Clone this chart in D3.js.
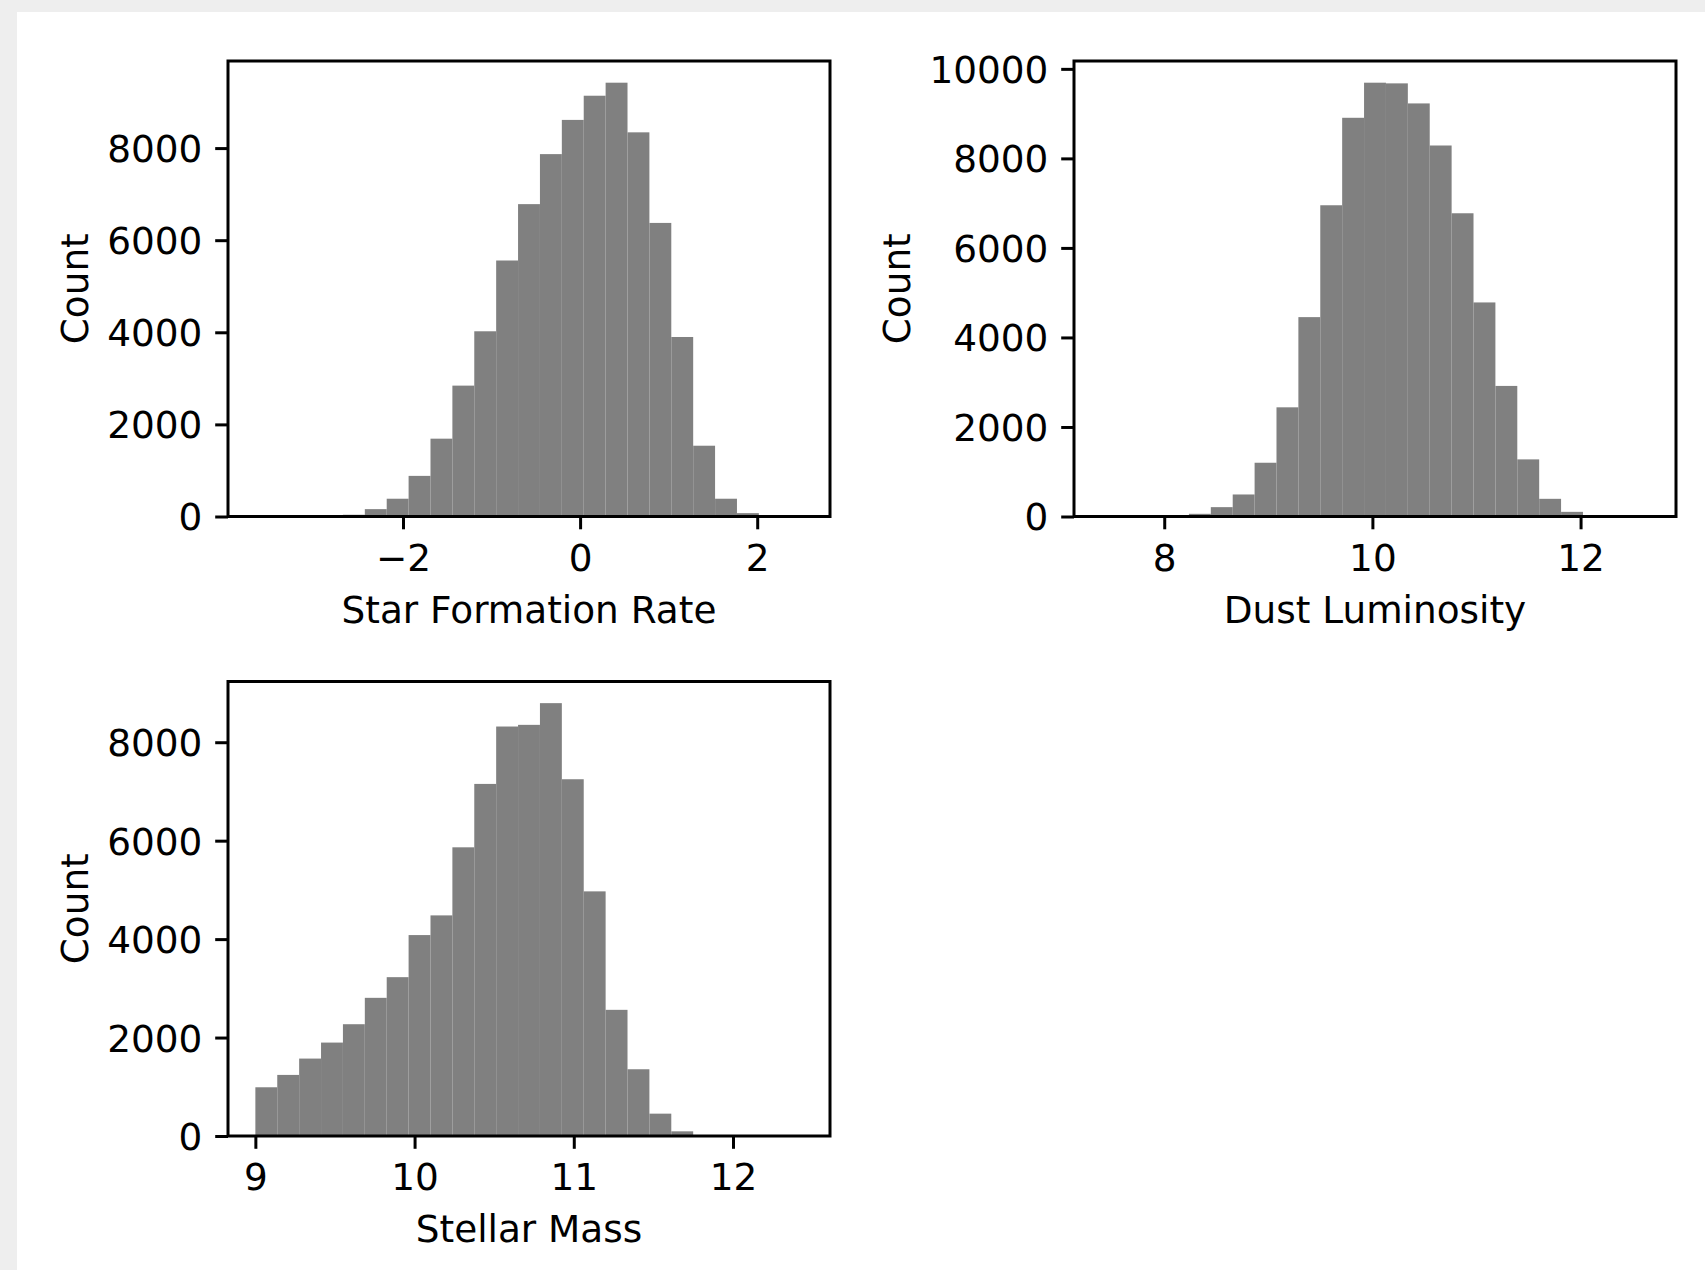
<!DOCTYPE html>
<html>
<head>
<meta charset="utf-8">
<script src="https://cdn.jsdelivr.net/npm/d3@7"></script>
<style>
  html, body { margin: 0; padding: 0; background: #eeeeee; }
  svg { display: block; }
  text { font-family: "DejaVu Sans", sans-serif; }
</style>
</head>
<body>
<svg id="chart" width="1705" height="1270"></svg>
<script>
// ---------- DATA (25 equal-width bins per histogram) ----------
const sfrRange = [-3.667, 2.513];
const sfrCounts = [1, 2, 3, 8, 38, 160, 386, 882, 1690, 2842, 4022, 5559, 6783,
                   7869, 8612, 9137, 9420, 8342, 6375, 3898, 1537, 386, 73, 5, 1];
const sfrTicks = [-2, 0, 2];
const sfrYTicks = [0, 2000, 4000, 6000, 8000];

const dustRange = [7.396, 12.654];
const dustCounts = [1, 2, 5, 15, 60, 209, 492, 1201, 2439, 4454, 6953, 8907, 9691,
                    9676, 9228, 8288, 6774, 4782, 2917, 1276, 395, 104, 22, 5, 1];
const dustTicks = [8, 10, 12];
const dustYTicks = [0, 2000, 4000, 6000, 8000, 10000];

const massRange = [9.0, 12.4375];
const massCounts = [990, 1241, 1573, 1898, 2271, 2807, 3227, 4082, 4482, 5865, 7153,
                    8319, 8353, 8794, 7248, 4970, 2563, 1356, 454, 95, 10, 3, 1, 0, 1];
const massTicks = [9, 10, 11, 12];
const massYTicks = [0, 2000, 4000, 6000, 8000];

const panels = [
  { label: "Star Formation Rate", range: sfrRange, counts: sfrCounts, xt: sfrTicks, yt: sfrYTicks,
    x0: 228, x1: 830, y0: 61, y1: 516.5 },
  { label: "Dust Luminosity", range: dustRange, counts: dustCounts, xt: dustTicks, yt: dustYTicks,
    x0: 1074, x1: 1676, y0: 61, y1: 516.5 },
  { label: "Stellar Mass", range: massRange, counts: massCounts, xt: massTicks, yt: massYTicks,
    x0: 228, x1: 830, y0: 681.5, y1: 1136 }
];

// ---------- STYLE ----------
const FS = 37.4;           // font size (10pt)
const TICK = 12.8;         // tick length
const PAD = 12.8;          // tick label pad
const LW = 3;              // spine / tick width
const BAR = "#808080";
const DIGIT = 0.636 * FS;  // DejaVu digit advance

const svg = d3.select("#chart");
svg.append("rect").attr("x", 17).attr("y", 12).attr("width", 1705 - 17).attr("height", 1270 - 12)
   .attr("fill", "#ffffff");

const fmt = d3.format("d");

panels.forEach(p => {
  const n = p.counts.length;
  const [a, b] = p.range;
  const bw = (b - a) / n;
  const bins = p.counts.map((c, i) => ({ x0: a + i * bw, x1: a + (i + 1) * bw, c }));
  const m = 0.05 * (b - a);
  const x = d3.scaleLinear().domain([a - m, b + m]).range([p.x0, p.x1]);
  const y = d3.scaleLinear().domain([0, d3.max(p.counts) * 1.05]).range([p.y1, p.y0]);

  const g = svg.append("g");

  g.append("g").selectAll("rect").data(bins.filter(d => d.c > 0)).join("rect")
    .attr("x", d => x(d.x0))
    .attr("width", d => x(d.x1) - x(d.x0))
    .attr("y", d => y(d.c))
    .attr("height", d => y(0) - y(d.c))
    .attr("fill", BAR);

  // axes
  const xa = g.append("g").attr("transform", `translate(0,${p.y1})`)
    .call(d3.axisBottom(x).tickValues(p.xt).tickFormat(fmt).tickSize(TICK).tickSizeOuter(0).tickPadding(PAD));
  const ya = g.append("g").attr("transform", `translate(${p.x0},0)`)
    .call(d3.axisLeft(y).tickValues(p.yt).tickFormat(fmt).tickSize(TICK).tickSizeOuter(0).tickPadding(PAD));
  [xa, ya].forEach(ax => {
    ax.select(".domain").remove();
    ax.selectAll("line").attr("stroke", "#000").attr("stroke-width", LW);
    ax.selectAll("text").attr("font-size", FS).attr("fill", "#000")
      .attr("font-family", "DejaVu Sans");
  });
  xa.selectAll("text").attr("y", 54).attr("dy", null);
  ya.selectAll("text").attr("dy", "0.36em");

  // frame
  g.append("rect").attr("x", p.x0).attr("y", p.y0)
    .attr("width", p.x1 - p.x0).attr("height", p.y1 - p.y0)
    .attr("fill", "none").attr("stroke", "#000").attr("stroke-width", LW);

  // labels
  g.append("text").attr("x", (p.x0 + p.x1) / 2).attr("y", p.y1 + 106)
    .attr("text-anchor", "middle").attr("font-size", FS).text(p.label);
  const maxDigits = d3.max(p.yt, v => fmt(v).length);
  const off = 2 * TICK + maxDigits * DIGIT + 19;
  g.append("text")
    .attr("transform", `translate(${p.x0 - off},${(p.y0 + p.y1) / 2}) rotate(-90)`)
    .attr("text-anchor", "middle").attr("font-size", FS).text("Count");
});
</script>
</body>
</html>
